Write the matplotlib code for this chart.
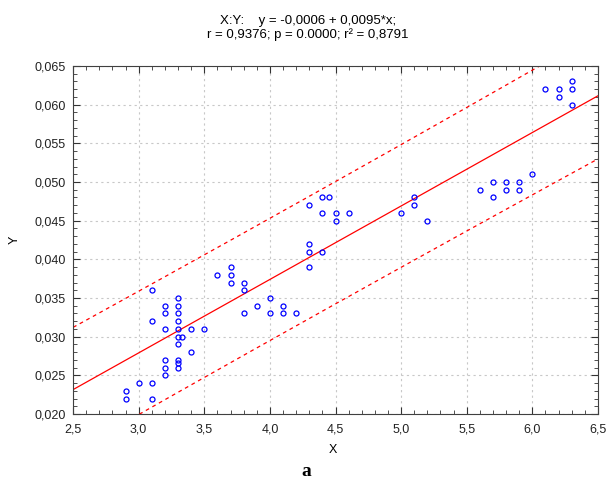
import numpy as np
import matplotlib
matplotlib.use('Agg')
import matplotlib.pyplot as plt
from matplotlib.ticker import MultipleLocator

plt.rcParams['font.family'] = ['Liberation Sans', 'DejaVu Sans']

# data
x = [2.9, 2.9, 3.0, 3.1, 3.1, 3.1, 3.1,
     3.2, 3.2, 3.2, 3.2, 3.2, 3.2,
     3.3, 3.3, 3.3, 3.3, 3.3, 3.3, 3.3, 3.3, 3.3, 3.3, 3.33,
     3.4, 3.4, 3.5,
     3.6, 3.7, 3.7, 3.7, 3.8, 3.8, 3.8, 3.9,
     4.0, 4.0, 4.1, 4.1, 4.2,
     4.3, 4.3, 4.3, 4.3, 4.4, 4.45, 4.4, 4.4, 4.5, 4.5, 4.6,
     5.0, 5.1, 5.1, 5.2,
     5.6, 5.7, 5.7, 5.8, 5.8, 5.9, 5.9, 6.0,
     6.1, 6.2, 6.2, 6.3, 6.3, 6.3]
y = [0.023, 0.022, 0.024, 0.024, 0.022, 0.036, 0.032,
     0.034, 0.033, 0.031, 0.027, 0.026, 0.025,
     0.035, 0.034, 0.033, 0.032, 0.031, 0.030, 0.029, 0.027, 0.0266, 0.026, 0.030,
     0.031, 0.028, 0.031,
     0.038, 0.039, 0.038, 0.037, 0.037, 0.036, 0.033, 0.034,
     0.035, 0.033, 0.034, 0.033, 0.033,
     0.047, 0.042, 0.041, 0.039, 0.048, 0.048, 0.046, 0.041, 0.046, 0.045, 0.046,
     0.046, 0.048, 0.047, 0.045,
     0.049, 0.050, 0.048, 0.050, 0.049, 0.050, 0.049, 0.051,
     0.062, 0.062, 0.061, 0.063, 0.062, 0.060]

intercept = -0.0006
slope = 0.0095

xticks = [2.5, 3.0, 3.5, 4.0, 4.5, 5.0, 5.5, 6.0, 6.5]
xtick_labels = ['2,5', '3,0', '3,5', '4,0', '4,5', '5,0', '5,5', '6,0', '6,5']
yticks = [0.020, 0.025, 0.030, 0.035, 0.040, 0.045, 0.050, 0.055, 0.060, 0.065]
ytick_labels = ['0,020', '0,025', '0,030', '0,035', '0,040', '0,045',
                '0,050', '0,055', '0,060', '0,065']

title1 = 'X:Y:    y = -0,0006 + 0,0095*x;'
title2 = 'r = 0,9376; p = 0.0000; r² = 0,8791'

# regression line + 95% prediction band
xa = np.array(x)
ya = np.array(y)
n = len(xa)
xs = np.linspace(2.0, 7.0, 200)
fit = intercept + slope * xs
resid = ya - (intercept + slope * xa)
s = np.sqrt(np.sum(resid ** 2) / (n - 2))
sxx = np.sum((xa - xa.mean()) ** 2)
band = 1.995 * s * np.sqrt(1 + 1 / n + (xs - xa.mean()) ** 2 / sxx)

fig = plt.figure(figsize=(6.11, 4.8), dpi=100)
ax = fig.add_axes([0.1195, 0.1375, 0.8592, 0.725])

ax.plot(xs, fit, color='red', lw=0.9)
ax.plot(xs, fit + band, color='red', lw=0.9, ls=(0, (3, 3)))
ax.plot(xs, fit - band, color='red', lw=0.9, ls=(0, (3, 3)))
ax.plot(x, y, 'o', ms=3.6, mfc='none', mec='blue', mew=0.9)

ax.set_xlim(2.5, 6.5)
ax.set_ylim(0.020, 0.065)
ax.set_xticks(xticks)
ax.set_xticklabels(xtick_labels)
ax.set_yticks(yticks)
ax.set_yticklabels(ytick_labels)
ax.xaxis.set_minor_locator(MultipleLocator(0.1))
ax.yaxis.set_minor_locator(MultipleLocator(0.001))
ax.tick_params(which='both', direction='in', top=True, right=True,
               labelsize=9, color='#333333', labelcolor='#222222')
ax.tick_params(axis='x', which='major', pad=6.5)
ax.tick_params(axis='y', which='major', pad=5.5)
ax.tick_params(which='major', length=5)
ax.tick_params(which='minor', length=3)
ax.grid(True, which='major', ls=(0, (2, 3)), color='#c8c8c8', lw=0.8)
for sp in ax.spines.values():
    sp.set_color('#404040')

fig.text(333 / 611, 1 - 450 / 480, 'X', ha='center', va='center', fontsize=9)
fig.text(15 / 611, 0.5, 'Y', ha='center', va='center', fontsize=9,
         rotation=90)
fig.text(308 / 611, 1 - 21 / 480, title1, ha='center', va='center',
         fontsize=9.5)
fig.text(308 / 611, 1 - 35 / 480, title2, ha='center', va='center',
         fontsize=9.5)
fig.text(306 / 611, 1 - 472 / 480, 'a', ha='center', va='center',
         fontsize=14, fontweight='bold',
         family=['Liberation Serif', 'DejaVu Serif'])

fig.savefig('out.png', dpi=100)
